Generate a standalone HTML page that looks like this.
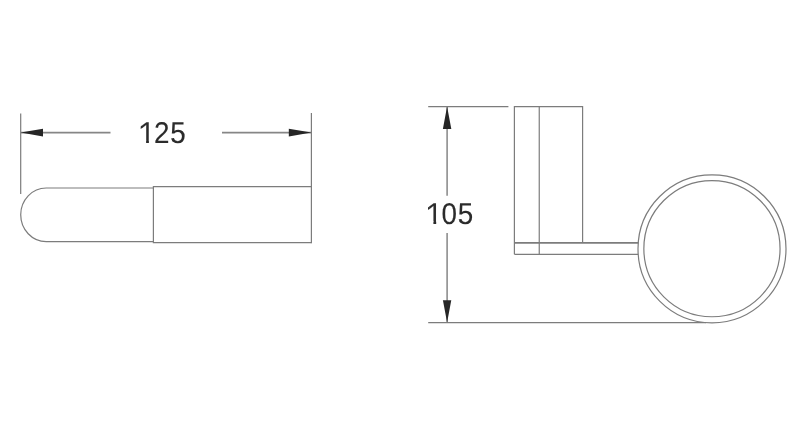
<!DOCTYPE html>
<html>
<head>
<meta charset="utf-8">
<style>
html,body{margin:0;padding:0;background:#ffffff;}
body{width:800px;height:438px;overflow:hidden;position:relative;font-family:"Liberation Sans",sans-serif;}
svg{position:absolute;left:0;top:0;display:block;filter:blur(0.3px);}
text{font-family:"Liberation Sans",sans-serif;font-size:30.1px;fill:#2b2b2b;stroke:#2b2b2b;stroke-width:0.12px;text-rendering:geometricPrecision;}
</style>
</head>
<body>
<svg width="800" height="438" viewBox="0 0 800 438">
<g fill="none" stroke="#7c7c7c" stroke-width="1.2">
  <!-- left view: extension lines -->
  <line x1="20.7" y1="113.5" x2="20.7" y2="194"/>
  <line x1="311.4" y1="113" x2="311.4" y2="243.2"/>
  <!-- dimension line -->
  <line x1="20.7" y1="132.6" x2="110.5" y2="132.6" stroke="#868686" stroke-width="1.6"/>
  <line x1="222" y1="132.6" x2="311.4" y2="132.6" stroke="#868686" stroke-width="1.6"/>
  <!-- rounded body -->
  <path d="M153.4 188 H46.2 A25.5 26.8 0 0 0 46.2 241.6 H153.4"/>
  <path d="M311.4 186.7 H153.4 V242.6 H311.4"/>
  <!-- right view -->
  <line x1="428.2" y1="106.6" x2="508.4" y2="106.6"/>
  <line x1="428.2" y1="322.6" x2="706" y2="322.6"/>
  <line x1="447.1" y1="106.6" x2="447.1" y2="195.7" stroke="#868686" stroke-width="1.5"/>
  <line x1="447.1" y1="233" x2="447.1" y2="322.6" stroke="#868686" stroke-width="1.5"/>
  <path d="M514.4 254.3 V106.6 H582.6 V242.9"/>
  <line x1="539.25" y1="106.6" x2="539.25" y2="254.3"/>
  <path d="M514.4 254.3 H638.3"/>
  <path d="M514.4 242.9 H638.3" stroke-width="1.8"/>
  <circle cx="712" cy="248.85" r="74"/>
  <circle cx="711.95" cy="248.65" r="68.1"/>
</g>
<g fill="#262626" stroke="none">
  <polygon points="20.7,132.6 43,128.8 43,136.4"/>
  <polygon points="311.4,132.6 288.8,128.8 288.8,136.4"/>
  <polygon points="447.1,106.6 442.9,129 451.3,129"/>
  <polygon points="447.1,322.6 442.9,300.3 451.3,300.3"/>
</g>
<g transform="scale(0.925 1)">
<text x="150.56 166.5 184.1" y="143">125</text>
<text x="461.16 477.25 494.85" y="224">105</text>
</g>
<g fill="#ffffff" stroke="none">
  <rect x="140.2" y="140" width="5.9" height="4"/>
  <rect x="148.9" y="140" width="5.4" height="4"/>
  <rect x="427.5" y="221" width="5.9" height="4"/>
  <rect x="436.2" y="221" width="5.5" height="4"/>
</g>
<g fill="#2b2b2b" stroke="none">
  <polygon points="142,125.5 140.7,126.4 140.7,128.9 142,128"/>
  <polygon points="429.3,206.5 428,207.4 428,209.9 429.3,209"/>
</g>
</svg>
</body>
</html>
